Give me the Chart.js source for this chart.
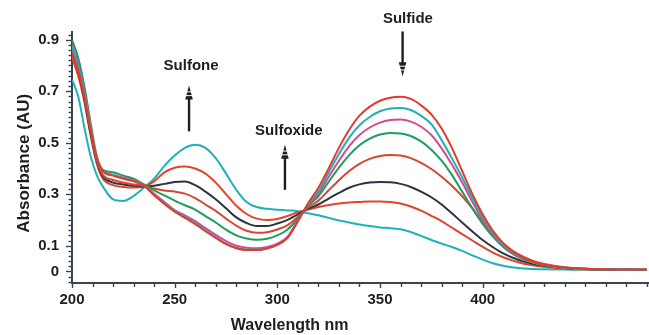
<!DOCTYPE html>
<html>
<head>
<meta charset="utf-8">
<script src="https://cdn.jsdelivr.net/npm/chart.js@4.4.1/dist/chart.umd.min.js"></script>
<style>
  html, body { margin: 0; padding: 0; background: #ffffff; }
  #wrap { width: 649px; height: 335px; position: relative; }
</style>
</head>
<body>
<div id="wrap"><canvas id="c"></canvas></div>
<script>
// ---- data ----
const wavelengths = [200,203,206,209,212,215,220,225,230,235,240,245,250,255,260,265,270,275,280,285,290,295,300,305,310,315,320,325,330,335,340,345,350,355,360,365,370,375,380,385,390,395,400,405,410,415,420,425,430,440,450,460,470,480];

const redTop = [0.845,0.78,0.68,0.55,0.44,0.39,0.372,0.36,0.35,0.333,0.296,0.262,0.232,0.208,0.184,0.156,0.13,0.106,0.09,0.083,0.083,0.089,0.103,0.13,0.195,0.265,0.325,0.4,0.48,0.55,0.605,0.64,0.663,0.675,0.678,0.67,0.645,0.61,0.555,0.48,0.39,0.3,0.222,0.158,0.11,0.076,0.052,0.036,0.026,0.015,0.01,0.008,0.007,0.006];
const cyanA = [0.87,0.8,0.69,0.56,0.44,0.39,0.375,0.362,0.352,0.333,0.298,0.265,0.235,0.212,0.188,0.16,0.133,0.108,0.092,0.085,0.084,0.09,0.104,0.132,0.195,0.262,0.31,0.384,0.456,0.52,0.568,0.6,0.622,0.633,0.635,0.627,0.605,0.572,0.51,0.44,0.365,0.285,0.212,0.152,0.105,0.072,0.05,0.035,0.025,0.014,0.01,0.008,0.007,0.006];
const magenta = [0.88,0.81,0.7,0.565,0.445,0.39,0.375,0.365,0.355,0.335,0.302,0.27,0.238,0.218,0.195,0.168,0.142,0.118,0.1,0.092,0.09,0.095,0.108,0.135,0.2,0.258,0.302,0.367,0.43,0.487,0.53,0.559,0.578,0.588,0.59,0.582,0.562,0.53,0.478,0.415,0.345,0.27,0.2,0.143,0.1,0.069,0.048,0.034,0.025,0.014,0.01,0.008,0.007,0.006];
const green = [0.9,0.83,0.72,0.58,0.45,0.395,0.385,0.372,0.36,0.338,0.315,0.295,0.275,0.257,0.24,0.215,0.19,0.162,0.14,0.128,0.123,0.127,0.14,0.163,0.205,0.254,0.292,0.348,0.403,0.452,0.49,0.516,0.532,0.538,0.536,0.526,0.505,0.473,0.43,0.375,0.31,0.245,0.185,0.135,0.095,0.066,0.046,0.033,0.024,0.014,0.01,0.008,0.007,0.006];
const redMid = [0.86,0.79,0.68,0.55,0.435,0.375,0.355,0.345,0.338,0.332,0.322,0.314,0.31,0.302,0.285,0.26,0.235,0.205,0.178,0.158,0.15,0.152,0.163,0.18,0.212,0.248,0.275,0.315,0.354,0.39,0.418,0.437,0.448,0.452,0.45,0.44,0.422,0.398,0.368,0.333,0.292,0.245,0.19,0.145,0.108,0.078,0.056,0.04,0.029,0.016,0.01,0.008,0.007,0.006];
const dark = [0.85,0.78,0.67,0.54,0.43,0.37,0.345,0.338,0.333,0.33,0.333,0.34,0.347,0.349,0.335,0.31,0.28,0.245,0.21,0.188,0.176,0.176,0.186,0.2,0.222,0.243,0.26,0.283,0.305,0.325,0.338,0.345,0.347,0.346,0.34,0.328,0.31,0.288,0.26,0.226,0.19,0.155,0.122,0.094,0.07,0.052,0.038,0.029,0.022,0.013,0.009,0.007,0.006,0.006];
const redLow = [0.83,0.76,0.66,0.53,0.42,0.36,0.335,0.328,0.326,0.33,0.35,0.385,0.403,0.408,0.4,0.38,0.345,0.3,0.255,0.223,0.205,0.2,0.204,0.215,0.23,0.24,0.25,0.258,0.264,0.268,0.27,0.272,0.272,0.27,0.264,0.252,0.236,0.216,0.195,0.17,0.145,0.12,0.095,0.073,0.055,0.041,0.03,0.023,0.018,0.011,0.008,0.007,0.006,0.006];
const cyanEnd = [0.745,0.68,0.56,0.45,0.375,0.33,0.28,0.274,0.293,0.325,0.36,0.41,0.45,0.48,0.492,0.48,0.44,0.38,0.317,0.27,0.25,0.243,0.24,0.237,0.234,0.226,0.218,0.208,0.198,0.19,0.182,0.176,0.171,0.168,0.164,0.153,0.138,0.122,0.108,0.095,0.08,0.062,0.046,0.032,0.022,0.015,0.011,0.009,0.008,0.007,0.006,0.006,0.006,0.006];

const xLabelTicks = [200, 250, 300, 350, 400];
const xMinorStep = 10;
const yLabelTicks = [0, 0.1, 0.3, 0.5, 0.7, 0.9];
const yMinorStep = 0.02;

const annotations = [
  { text: 'Sulfone',   tx: 258,   ty: 0.798, ax: 257,   from: 0.544, to: 0.722 },
  { text: 'Sulfoxide', tx: 305.6, ty: 0.547, ax: 303.7, from: 0.317, to: 0.492 },
  { text: 'Sulfide',   tx: 363.6, ty: 0.98,  ax: 361,   from: 0.932, to: 0.758 }
];

// ---- styling ----
const AXIS = '#3b4352';
const FONT = '"Liberation Sans", Arial, Helvetica, sans-serif';

function pts(arr) { return wavelengths.map((w, i) => ({ x: w, y: arr[i] })); }

const series = [
  { label: 'S1', data: redTop,  color: '#e43a2b' },
  { label: 'S2', data: cyanA,   color: '#1fb0b6' },
  { label: 'S3', data: magenta, color: '#d64a92' },
  { label: 'S4', data: green,   color: '#1f9d5c' },
  { label: 'S5', data: redMid,  color: '#d6472f' },
  { label: 'S6', data: dark,    color: '#2c3346' },
  { label: 'S7', data: redLow,  color: '#e2452d' },
  { label: 'S8', data: cyanEnd, color: '#1eb2b8' }
];

const extras = {
  id: 'extras',
  afterDraw(chart) {
    const ctx = chart.ctx;
    const xs = chart.scales.x, ys = chart.scales.y;
    const ca = chart.chartArea;
    ctx.save();
    ctx.strokeStyle = AXIS;
    ctx.lineWidth = 1.4;
    // y ticks (minor + major)
    for (let v = -0.04; v <= 0.925; v += yMinorStep) {
      const vv = Math.round(v * 100) / 100;
      const p = ys.getPixelForValue(vv);
      const major = yLabelTicks.some(t => Math.abs(t - vv) < 1e-6);
      ctx.beginPath();
      ctx.moveTo(ca.left - (major ? 6 : 3.5), Math.round(p) + 0.5);
      ctx.lineTo(ca.left, Math.round(p) + 0.5);
      ctx.stroke();
    }
    // x ticks
    for (let v = 200; v <= 480; v += xMinorStep) {
      const p = xs.getPixelForValue(v);
      const major = xLabelTicks.includes(v);
      ctx.beginPath();
      ctx.moveTo(Math.round(p) + 0.5, ca.bottom);
      ctx.lineTo(Math.round(p) + 0.5, ca.bottom + (major ? 5 : 4));
      ctx.stroke();
    }
    // axis titles
    ctx.fillStyle = '#1e1e1e';
    ctx.font = 'bold 16px ' + FONT;
    ctx.textAlign = 'center';
    ctx.textBaseline = 'middle';
    ctx.fillText('Wavelength nm', xs.getPixelForValue(306), 326);
    ctx.save();
    ctx.translate(24, ys.getPixelForValue(0.42));
    ctx.rotate(-Math.PI / 2);
    ctx.font = 'bold 17px ' + FONT;
    ctx.fillText('Absorbance (AU)', 0, 0);
    ctx.restore();
    // annotations
    ctx.font = 'bold 15px ' + FONT;
    annotations.forEach(a => {
      ctx.fillStyle = '#1e1e1e';
      ctx.fillText(a.text, xs.getPixelForValue(a.tx), ys.getPixelForValue(a.ty));
      const x = xs.getPixelForValue(a.ax);
      const y0 = ys.getPixelForValue(a.from);
      const y1 = ys.getPixelForValue(a.to);
      const dir = y1 < y0 ? -1 : 1; // -1 up
      const headLen = 14;
      ctx.strokeStyle = '#1e1e1e';
      ctx.lineWidth = 2.4;
      ctx.beginPath();
      ctx.moveTo(x, y0);
      ctx.lineTo(x, y1 - dir * headLen * 0.6);
      ctx.stroke();
      ctx.fillStyle = '#1e1e1e';
      ctx.beginPath();
      ctx.moveTo(x, y1);
      ctx.lineTo(x - 3.8, y1 - dir * headLen);
      ctx.lineTo(x + 3.8, y1 - dir * headLen);
      ctx.closePath();
      ctx.fill();
      ctx.strokeStyle = '#ffffff';
      ctx.lineWidth = 1;
      [0.45, 0.72].forEach(f => {
        const yy = y1 - dir * headLen * f;
        ctx.beginPath();
        ctx.moveTo(x - 4, yy);
        ctx.lineTo(x + 4, yy);
        ctx.stroke();
      });
    });
    ctx.restore();
  }
};

new Chart(document.getElementById('c'), {
  type: 'line',
  data: {
    datasets: series.map(s => ({
      label: s.label,
      data: pts(s.data),
      borderColor: s.color,
      backgroundColor: s.color,
      borderWidth: 2,
      pointRadius: 0,
      fill: false,
      cubicInterpolationMode: 'monotone'
    }))
  },
  options: {
    responsive: true,
    maintainAspectRatio: false,
    animation: false,
    layout: { padding: { top: 32, right: 0, left: 0, bottom: 0 } },
    plugins: { legend: { display: false }, tooltip: { enabled: false } },
    scales: {
      x: {
        type: 'linear',
        min: 200,
        max: 481,
        afterBuildTicks: (scale) => { scale.ticks = xLabelTicks.map(v => ({ value: v })); },
        afterFit: (scale) => { scale.height = 52; },
        grid: { display: true, drawOnChartArea: false, drawTicks: true, tickLength: 5, tickColor: 'rgba(0,0,0,0)' },
        border: { display: true, color: AXIS, width: 2 },
        ticks: {
          color: '#1e1e1e',
          padding: 3,
          maxRotation: 0,
          autoSkip: false,
          font: { family: FONT, size: 15, weight: 'bold' },
          callback: (v) => String(v)
        }
      },
      y: {
        type: 'linear',
        min: -0.045,
        max: 0.93,
        afterBuildTicks: (scale) => { scale.ticks = yLabelTicks.map(v => ({ value: v })); },
        afterFit: (scale) => { scale.width = 72; },
        grid: { display: true, drawOnChartArea: false, drawTicks: true, tickLength: 6, tickColor: 'rgba(0,0,0,0)' },
        border: { display: true, color: AXIS, width: 2 },
        ticks: {
          color: '#1e1e1e',
          padding: 7,
          autoSkip: false,
          font: { family: FONT, size: 15, weight: 'bold' },
          callback: (v) => (v === 0 ? '0' : String(v))
        }
      }
    }
  },
  plugins: [extras]
});
</script>
</body>
</html>
